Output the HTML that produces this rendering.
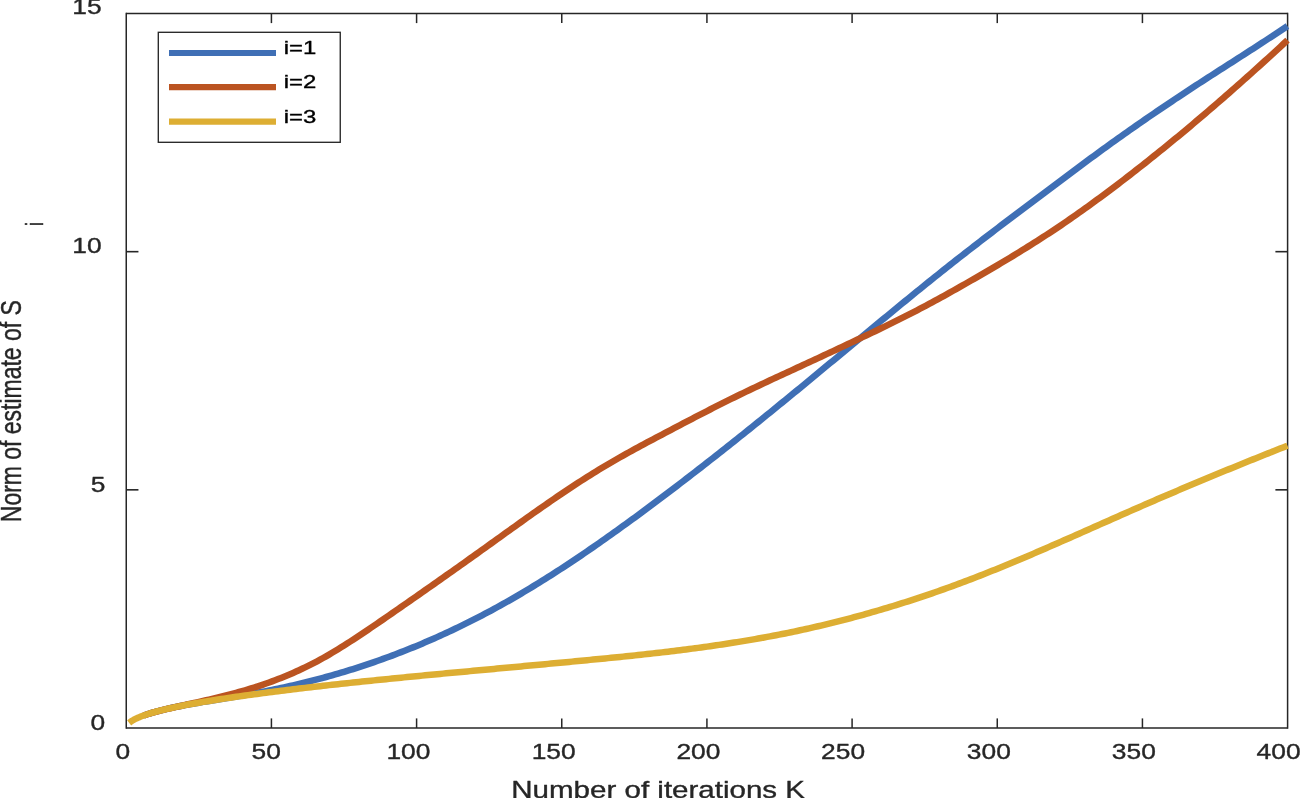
<!DOCTYPE html>
<html><head><meta charset="utf-8"><title>Norm of estimate</title>
<style>
html,body{margin:0;padding:0;background:#fff;}
svg{display:block}
text{font-family:"Liberation Sans",Arial,Helvetica,sans-serif;fill:#262626;stroke:#262626;stroke-width:0.35px;stroke-linejoin:round}
</style></head><body>
<svg width="1300" height="798" viewBox="0 0 1300 798">
<rect width="1300" height="798" fill="#fff"/>
<g stroke="#262626" fill="none">
<line x1="126.25" y1="12.7" x2="126.25" y2="728.8" stroke-width="1.5"/>
<line x1="1287.6" y1="12.7" x2="1287.6" y2="728.8" stroke-width="1.5"/>
<line x1="126.25" y1="13.5" x2="1287.6" y2="13.5" stroke-width="1.6"/>
<line x1="126.25" y1="728.0" x2="1287.6" y2="728.0" stroke-width="1.6"/>
<line x1="271.42" y1="728.0" x2="271.42" y2="718.4" stroke-width="1.5"/>
<line x1="271.42" y1="13.5" x2="271.42" y2="23.1" stroke-width="1.5"/>
<line x1="416.59" y1="728.0" x2="416.59" y2="718.4" stroke-width="1.5"/>
<line x1="416.59" y1="13.5" x2="416.59" y2="23.1" stroke-width="1.5"/>
<line x1="561.76" y1="728.0" x2="561.76" y2="718.4" stroke-width="1.5"/>
<line x1="561.76" y1="13.5" x2="561.76" y2="23.1" stroke-width="1.5"/>
<line x1="706.92" y1="728.0" x2="706.92" y2="718.4" stroke-width="1.5"/>
<line x1="706.92" y1="13.5" x2="706.92" y2="23.1" stroke-width="1.5"/>
<line x1="852.09" y1="728.0" x2="852.09" y2="718.4" stroke-width="1.5"/>
<line x1="852.09" y1="13.5" x2="852.09" y2="23.1" stroke-width="1.5"/>
<line x1="997.26" y1="728.0" x2="997.26" y2="718.4" stroke-width="1.5"/>
<line x1="997.26" y1="13.5" x2="997.26" y2="23.1" stroke-width="1.5"/>
<line x1="1142.43" y1="728.0" x2="1142.43" y2="718.4" stroke-width="1.5"/>
<line x1="1142.43" y1="13.5" x2="1142.43" y2="23.1" stroke-width="1.5"/>
<line x1="126.25" y1="489.83" x2="138.45" y2="489.83" stroke-width="1.6"/>
<line x1="1287.6" y1="489.83" x2="1275.3999999999999" y2="489.83" stroke-width="1.6"/>
<line x1="126.25" y1="251.67" x2="138.45" y2="251.67" stroke-width="1.6"/>
<line x1="1287.6" y1="251.67" x2="1275.3999999999999" y2="251.67" stroke-width="1.6"/>
</g>
<g fill="none" stroke-width="6.5" stroke-linejoin="round">
<path stroke="#3f6fb5" d="M143.67 715.50 L145.12 714.98 L146.57 714.49 L148.03 714.01 L149.48 713.55 L150.93 713.11 L152.38 712.67 L153.83 712.25 L155.28 711.84 L156.74 711.45 L158.19 711.06 L159.64 710.68 L161.09 710.31 L164.09 709.57 L167.09 708.86 L170.09 708.18 L173.09 707.52 L176.09 706.89 L179.09 706.28 L182.09 705.69 L185.09 705.11 L188.09 704.55 L191.09 704.00 L194.09 703.47 L197.09 702.94 L200.09 702.43 L203.09 701.92 L206.09 701.42 L209.09 700.92 L212.09 700.43 L215.09 699.94 L218.09 699.45 L221.09 698.96 L224.09 698.47 L227.09 697.98 L230.09 697.49 L233.09 696.99 L236.09 696.49 L239.09 695.99 L242.09 695.48 L245.09 694.96 L248.09 694.44 L251.09 693.90 L254.09 693.36 L257.09 692.81 L260.09 692.25 L263.09 691.67 L266.09 691.09 L269.09 690.49 L272.09 689.89 L275.09 689.27 L278.09 688.65 L281.09 688.01 L284.09 687.36 L287.09 686.70 L290.09 686.02 L293.09 685.34 L296.09 684.64 L299.09 683.93 L302.09 683.21 L305.09 682.48 L308.09 681.73 L311.09 680.98 L314.09 680.21 L317.09 679.42 L320.09 678.63 L323.09 677.82 L326.09 677.00 L329.09 676.17 L332.09 675.32 L335.09 674.46 L338.09 673.59 L341.09 672.71 L344.09 671.81 L347.09 670.90 L350.09 669.97 L353.09 669.03 L356.09 668.08 L359.09 667.11 L362.09 666.14 L365.09 665.14 L368.09 664.14 L371.09 663.12 L374.09 662.08 L377.09 661.04 L380.09 659.97 L383.09 658.90 L386.09 657.81 L389.09 656.71 L392.09 655.59 L395.09 654.46 L398.09 653.31 L401.09 652.15 L404.09 650.98 L407.09 649.79 L410.09 648.58 L413.09 647.37 L416.09 646.13 L419.09 644.89 L422.09 643.63 L425.09 642.35 L428.09 641.06 L431.09 639.76 L434.09 638.44 L437.09 637.10 L440.09 635.75 L443.09 634.39 L446.09 633.01 L449.09 631.62 L452.09 630.21 L455.09 628.78 L458.09 627.35 L461.09 625.89 L464.09 624.42 L467.09 622.94 L470.09 621.44 L473.09 619.92 L476.09 618.40 L479.09 616.85 L482.09 615.29 L485.09 613.71 L488.09 612.12 L491.09 610.52 L494.09 608.89 L497.09 607.26 L500.09 605.60 L503.09 603.94 L506.09 602.25 L509.09 600.55 L512.09 598.84 L515.09 597.11 L518.09 595.36 L521.09 593.60 L524.09 591.82 L527.09 590.03 L530.09 588.22 L533.09 586.40 L536.09 584.56 L539.09 582.71 L542.09 580.85 L545.09 578.97 L548.09 577.08 L551.09 575.17 L554.09 573.26 L557.09 571.33 L560.09 569.38 L563.09 567.43 L566.09 565.46 L569.09 563.48 L572.09 561.48 L575.09 559.48 L578.09 557.46 L581.09 555.44 L584.09 553.40 L587.09 551.35 L590.09 549.29 L593.09 547.22 L596.09 545.14 L599.09 543.05 L602.09 540.95 L605.09 538.84 L608.09 536.72 L611.09 534.59 L614.09 532.45 L617.09 530.30 L620.09 528.15 L623.09 525.98 L626.09 523.81 L629.09 521.63 L632.09 519.44 L635.09 517.25 L638.09 515.05 L641.09 512.84 L644.09 510.62 L647.09 508.40 L650.09 506.17 L653.09 503.93 L656.09 501.69 L659.09 499.44 L662.09 497.18 L665.09 494.92 L668.09 492.65 L671.09 490.38 L674.09 488.10 L677.09 485.81 L680.09 483.52 L683.09 481.22 L686.09 478.92 L689.09 476.61 L692.09 474.29 L695.09 471.97 L698.09 469.65 L701.09 467.32 L704.09 464.98 L707.09 462.64 L710.09 460.29 L713.09 457.94 L716.09 455.59 L719.09 453.23 L722.09 450.86 L725.09 448.49 L728.09 446.11 L731.09 443.73 L734.09 441.35 L737.09 438.96 L740.09 436.57 L743.09 434.17 L746.09 431.77 L749.09 429.36 L752.09 426.95 L755.09 424.54 L758.09 422.12 L761.09 419.70 L764.09 417.27 L767.09 414.84 L770.09 412.41 L773.09 409.97 L776.09 407.53 L779.09 405.09 L782.09 402.64 L785.09 400.20 L788.09 397.74 L791.09 395.29 L794.09 392.83 L797.09 390.37 L800.09 387.90 L803.09 385.43 L806.09 382.96 L809.09 380.49 L812.09 378.02 L815.09 375.54 L818.09 373.06 L821.09 370.58 L824.09 368.09 L827.09 365.61 L830.09 363.12 L833.09 360.63 L836.09 358.15 L839.09 355.66 L842.09 353.17 L845.09 350.68 L848.09 348.19 L851.09 345.70 L854.09 343.21 L857.09 340.72 L860.09 338.23 L863.09 335.74 L866.09 333.25 L869.09 330.77 L872.09 328.29 L875.09 325.80 L878.09 323.32 L881.09 320.84 L884.09 318.37 L887.09 315.90 L890.09 313.42 L893.09 310.96 L896.09 308.49 L899.09 306.03 L902.09 303.57 L905.09 301.12 L908.09 298.67 L911.09 296.22 L914.09 293.78 L917.09 291.34 L920.09 288.91 L923.09 286.48 L926.09 284.06 L929.09 281.64 L932.09 279.23 L935.09 276.83 L938.09 274.43 L941.09 272.03 L944.09 269.65 L947.09 267.27 L950.09 264.89 L953.09 262.53 L956.09 260.17 L959.09 257.81 L962.09 255.47 L965.09 253.13 L968.09 250.79 L971.09 248.46 L974.09 246.14 L977.09 243.82 L980.09 241.51 L983.09 239.20 L986.09 236.90 L989.09 234.60 L992.09 232.31 L995.09 230.02 L998.09 227.73 L1001.09 225.45 L1004.09 223.17 L1007.09 220.90 L1010.09 218.63 L1013.09 216.36 L1016.09 214.09 L1019.09 211.83 L1022.09 209.56 L1025.09 207.31 L1028.09 205.05 L1031.09 202.79 L1034.09 200.54 L1037.09 198.28 L1040.09 196.03 L1043.09 193.78 L1046.09 191.53 L1049.09 189.28 L1052.09 187.03 L1055.09 184.78 L1058.09 182.53 L1061.09 180.28 L1064.09 178.03 L1067.09 175.78 L1070.09 173.54 L1073.09 171.30 L1076.09 169.07 L1079.09 166.84 L1082.09 164.61 L1085.09 162.39 L1088.09 160.17 L1091.09 157.96 L1094.09 155.76 L1097.09 153.56 L1100.09 151.37 L1103.09 149.19 L1106.09 147.02 L1109.09 144.86 L1112.09 142.70 L1115.09 140.55 L1118.09 138.41 L1121.09 136.28 L1124.09 134.16 L1127.09 132.04 L1130.09 129.93 L1133.09 127.83 L1136.09 125.74 L1139.09 123.65 L1142.09 121.57 L1145.09 119.50 L1148.09 117.44 L1151.09 115.38 L1154.09 113.33 L1157.09 111.29 L1160.09 109.25 L1163.09 107.22 L1166.09 105.20 L1169.09 103.19 L1172.09 101.18 L1175.09 99.17 L1178.09 97.18 L1181.09 95.19 L1184.09 93.20 L1187.09 91.23 L1190.09 89.26 L1193.09 87.29 L1196.09 85.33 L1199.09 83.38 L1202.09 81.43 L1205.09 79.49 L1208.09 77.55 L1211.09 75.62 L1214.09 73.69 L1217.09 71.76 L1220.09 69.84 L1223.09 67.91 L1226.09 65.99 L1229.09 64.07 L1232.09 62.15 L1235.09 60.23 L1238.09 58.31 L1241.09 56.38 L1244.09 54.46 L1247.09 52.53 L1250.09 50.60 L1253.09 48.66 L1256.09 46.72 L1259.09 44.77 L1262.09 42.82 L1265.09 40.86 L1268.09 38.90 L1271.09 36.93 L1274.09 34.95 L1277.09 32.96 L1280.09 30.96 L1283.09 28.95 L1286.09 26.93 L1287.40 26.05"/>
<path stroke="#bb5421" d="M143.67 715.49 L145.12 714.98 L146.57 714.50 L148.03 714.03 L149.48 713.58 L150.93 713.15 L152.38 712.73 L153.83 712.32 L155.28 711.92 L156.74 711.53 L158.19 711.15 L159.64 710.77 L161.09 710.41 L164.09 709.67 L167.09 708.96 L170.09 708.26 L173.09 707.58 L176.09 706.91 L179.09 706.25 L182.09 705.59 L185.09 704.93 L188.09 704.27 L191.09 703.62 L194.09 702.96 L197.09 702.30 L200.09 701.63 L203.09 700.96 L206.09 700.28 L209.09 699.59 L212.09 698.89 L215.09 698.18 L218.09 697.46 L221.09 696.72 L224.09 695.97 L227.09 695.21 L230.09 694.43 L233.09 693.63 L236.09 692.82 L239.09 691.98 L242.09 691.13 L245.09 690.26 L248.09 689.36 L251.09 688.45 L254.09 687.51 L257.09 686.54 L260.09 685.56 L263.09 684.55 L266.09 683.51 L269.09 682.45 L272.09 681.36 L275.09 680.24 L278.09 679.09 L281.09 677.91 L284.09 676.71 L287.09 675.47 L290.09 674.20 L293.09 672.90 L296.09 671.57 L299.09 670.20 L302.09 668.80 L305.09 667.37 L308.09 665.90 L311.09 664.39 L314.09 662.85 L317.09 661.27 L320.09 659.65 L323.09 657.99 L326.09 656.30 L329.09 654.57 L332.09 652.81 L335.09 651.02 L338.09 649.19 L341.09 647.34 L344.09 645.47 L347.09 643.57 L350.09 641.64 L353.09 639.70 L356.09 637.73 L359.09 635.75 L362.09 633.75 L365.09 631.74 L368.09 629.71 L371.09 627.67 L374.09 625.63 L377.09 623.57 L380.09 621.51 L383.09 619.45 L386.09 617.38 L389.09 615.31 L392.09 613.23 L395.09 611.16 L398.09 609.08 L401.09 607.00 L404.09 604.92 L407.09 602.84 L410.09 600.75 L413.09 598.66 L416.09 596.57 L419.09 594.47 L422.09 592.38 L425.09 590.28 L428.09 588.18 L431.09 586.08 L434.09 583.97 L437.09 581.86 L440.09 579.75 L443.09 577.64 L446.09 575.52 L449.09 573.41 L452.09 571.29 L455.09 569.16 L458.09 567.04 L461.09 564.91 L464.09 562.78 L467.09 560.65 L470.09 558.51 L473.09 556.38 L476.09 554.24 L479.09 552.10 L482.09 549.95 L485.09 547.80 L488.09 545.66 L491.09 543.50 L494.09 541.35 L497.09 539.19 L500.09 537.04 L503.09 534.88 L506.09 532.73 L509.09 530.57 L512.09 528.42 L515.09 526.27 L518.09 524.12 L521.09 521.98 L524.09 519.84 L527.09 517.71 L530.09 515.58 L533.09 513.46 L536.09 511.34 L539.09 509.23 L542.09 507.14 L545.09 505.05 L548.09 502.97 L551.09 500.90 L554.09 498.84 L557.09 496.79 L560.09 494.76 L563.09 492.73 L566.09 490.72 L569.09 488.72 L572.09 486.74 L575.09 484.77 L578.09 482.82 L581.09 480.88 L584.09 478.95 L587.09 477.05 L590.09 475.16 L593.09 473.29 L596.09 471.43 L599.09 469.60 L602.09 467.78 L605.09 465.99 L608.09 464.21 L611.09 462.45 L614.09 460.71 L617.09 458.99 L620.09 457.28 L623.09 455.59 L626.09 453.91 L629.09 452.24 L632.09 450.59 L635.09 448.95 L638.09 447.32 L641.09 445.69 L644.09 444.08 L647.09 442.47 L650.09 440.87 L653.09 439.28 L656.09 437.69 L659.09 436.11 L662.09 434.52 L665.09 432.94 L668.09 431.37 L671.09 429.79 L674.09 428.21 L677.09 426.64 L680.09 425.06 L683.09 423.49 L686.09 421.92 L689.09 420.35 L692.09 418.79 L695.09 417.23 L698.09 415.67 L701.09 414.12 L704.09 412.58 L707.09 411.04 L710.09 409.50 L713.09 407.97 L716.09 406.45 L719.09 404.93 L722.09 403.42 L725.09 401.92 L728.09 400.43 L731.09 398.94 L734.09 397.47 L737.09 396.00 L740.09 394.54 L743.09 393.09 L746.09 391.65 L749.09 390.21 L752.09 388.78 L755.09 387.36 L758.09 385.94 L761.09 384.53 L764.09 383.12 L767.09 381.72 L770.09 380.32 L773.09 378.92 L776.09 377.53 L779.09 376.14 L782.09 374.75 L785.09 373.36 L788.09 371.98 L791.09 370.59 L794.09 369.21 L797.09 367.82 L800.09 366.44 L803.09 365.05 L806.09 363.66 L809.09 362.27 L812.09 360.88 L815.09 359.49 L818.09 358.09 L821.09 356.70 L824.09 355.30 L827.09 353.90 L830.09 352.50 L833.09 351.10 L836.09 349.69 L839.09 348.29 L842.09 346.88 L845.09 345.47 L848.09 344.05 L851.09 342.64 L854.09 341.22 L857.09 339.79 L860.09 338.37 L863.09 336.94 L866.09 335.51 L869.09 334.08 L872.09 332.64 L875.09 331.20 L878.09 329.75 L881.09 328.30 L884.09 326.84 L887.09 325.37 L890.09 323.90 L893.09 322.42 L896.09 320.94 L899.09 319.44 L902.09 317.94 L905.09 316.43 L908.09 314.91 L911.09 313.38 L914.09 311.84 L917.09 310.29 L920.09 308.73 L923.09 307.15 L926.09 305.56 L929.09 303.97 L932.09 302.35 L935.09 300.73 L938.09 299.09 L941.09 297.45 L944.09 295.79 L947.09 294.13 L950.09 292.45 L953.09 290.77 L956.09 289.08 L959.09 287.38 L962.09 285.68 L965.09 283.97 L968.09 282.26 L971.09 280.54 L974.09 278.81 L977.09 277.09 L980.09 275.35 L983.09 273.62 L986.09 271.87 L989.09 270.12 L992.09 268.37 L995.09 266.60 L998.09 264.83 L1001.09 263.06 L1004.09 261.27 L1007.09 259.48 L1010.09 257.67 L1013.09 255.86 L1016.09 254.03 L1019.09 252.20 L1022.09 250.35 L1025.09 248.50 L1028.09 246.63 L1031.09 244.75 L1034.09 242.86 L1037.09 240.95 L1040.09 239.03 L1043.09 237.10 L1046.09 235.15 L1049.09 233.19 L1052.09 231.21 L1055.09 229.21 L1058.09 227.20 L1061.09 225.18 L1064.09 223.14 L1067.09 221.08 L1070.09 219.01 L1073.09 216.93 L1076.09 214.83 L1079.09 212.71 L1082.09 210.58 L1085.09 208.44 L1088.09 206.29 L1091.09 204.12 L1094.09 201.94 L1097.09 199.74 L1100.09 197.54 L1103.09 195.32 L1106.09 193.09 L1109.09 190.84 L1112.09 188.59 L1115.09 186.32 L1118.09 184.05 L1121.09 181.76 L1124.09 179.46 L1127.09 177.15 L1130.09 174.83 L1133.09 172.50 L1136.09 170.16 L1139.09 167.81 L1142.09 165.45 L1145.09 163.08 L1148.09 160.70 L1151.09 158.31 L1154.09 155.91 L1157.09 153.51 L1160.09 151.09 L1163.09 148.66 L1166.09 146.22 L1169.09 143.78 L1172.09 141.32 L1175.09 138.86 L1178.09 136.38 L1181.09 133.90 L1184.09 131.41 L1187.09 128.91 L1190.09 126.39 L1193.09 123.87 L1196.09 121.35 L1199.09 118.81 L1202.09 116.26 L1205.09 113.70 L1208.09 111.14 L1211.09 108.56 L1214.09 105.98 L1217.09 103.39 L1220.09 100.79 L1223.09 98.18 L1226.09 95.56 L1229.09 92.94 L1232.09 90.30 L1235.09 87.66 L1238.09 85.01 L1241.09 82.35 L1244.09 79.68 L1247.09 77.00 L1250.09 74.32 L1253.09 71.63 L1256.09 68.93 L1259.09 66.22 L1262.09 63.50 L1265.09 60.77 L1268.09 58.04 L1271.09 55.30 L1274.09 52.55 L1277.09 49.79 L1280.09 47.03 L1283.09 44.25 L1286.09 41.47 L1287.50 40.16"/>
<path stroke="#ddae33" d="M129.15 722.92 L130.61 721.77 L132.06 720.80 L133.51 719.94 L134.96 719.16 L136.41 718.45 L137.86 717.79 L139.32 717.17 L140.77 716.58 L142.22 716.02 L143.67 715.49 L145.12 714.98 L146.57 714.49 L148.03 714.01 L149.48 713.56 L150.93 713.11 L152.38 712.68 L153.83 712.27 L155.28 711.86 L156.74 711.46 L158.19 711.08 L159.64 710.70 L161.09 710.33 L164.09 709.60 L167.09 708.89 L170.09 708.21 L173.09 707.55 L176.09 706.92 L179.09 706.31 L182.09 705.71 L185.09 705.13 L188.09 704.56 L191.09 704.01 L194.09 703.47 L197.09 702.95 L200.09 702.43 L203.09 701.92 L206.09 701.43 L209.09 700.94 L212.09 700.46 L215.09 699.98 L218.09 699.51 L221.09 699.05 L224.09 698.60 L227.09 698.15 L230.09 697.71 L233.09 697.27 L236.09 696.83 L239.09 696.40 L242.09 695.98 L245.09 695.56 L248.09 695.14 L251.09 694.73 L254.09 694.32 L257.09 693.92 L260.09 693.52 L263.09 693.12 L266.09 692.73 L269.09 692.34 L272.09 691.95 L275.09 691.57 L278.09 691.19 L281.09 690.81 L284.09 690.43 L287.09 690.06 L290.09 689.69 L293.09 689.33 L296.09 688.96 L299.09 688.60 L302.09 688.25 L305.09 687.89 L308.09 687.54 L311.09 687.19 L314.09 686.84 L317.09 686.50 L320.09 686.16 L323.09 685.82 L326.09 685.48 L329.09 685.14 L332.09 684.81 L335.09 684.48 L338.09 684.15 L341.09 683.83 L344.09 683.50 L347.09 683.18 L350.09 682.86 L353.09 682.55 L356.09 682.23 L359.09 681.91 L362.09 681.60 L365.09 681.29 L368.09 680.98 L371.09 680.67 L374.09 680.37 L377.09 680.06 L380.09 679.76 L383.09 679.46 L386.09 679.16 L389.09 678.86 L392.09 678.56 L395.09 678.26 L398.09 677.97 L401.09 677.67 L404.09 677.38 L407.09 677.09 L410.09 676.79 L413.09 676.50 L416.09 676.21 L419.09 675.93 L422.09 675.64 L425.09 675.35 L428.09 675.06 L431.09 674.78 L434.09 674.49 L437.09 674.21 L440.09 673.93 L443.09 673.64 L446.09 673.36 L449.09 673.08 L452.09 672.80 L455.09 672.52 L458.09 672.23 L461.09 671.95 L464.09 671.67 L467.09 671.40 L470.09 671.12 L473.09 670.84 L476.09 670.56 L479.09 670.28 L482.09 670.00 L485.09 669.72 L488.09 669.45 L491.09 669.17 L494.09 668.89 L497.09 668.61 L500.09 668.34 L503.09 668.06 L506.09 667.78 L509.09 667.50 L512.09 667.23 L515.09 666.95 L518.09 666.67 L521.09 666.39 L524.09 666.11 L527.09 665.83 L530.09 665.56 L533.09 665.28 L536.09 665.00 L539.09 664.72 L542.09 664.44 L545.09 664.16 L548.09 663.88 L551.09 663.60 L554.09 663.31 L557.09 663.03 L560.09 662.75 L563.09 662.47 L566.09 662.18 L569.09 661.90 L572.09 661.61 L575.09 661.33 L578.09 661.04 L581.09 660.76 L584.09 660.47 L587.09 660.18 L590.09 659.89 L593.09 659.60 L596.09 659.31 L599.09 659.02 L602.09 658.72 L605.09 658.43 L608.09 658.13 L611.09 657.83 L614.09 657.53 L617.09 657.23 L620.09 656.92 L623.09 656.61 L626.09 656.30 L629.09 655.99 L632.09 655.68 L635.09 655.36 L638.09 655.04 L641.09 654.71 L644.09 654.39 L647.09 654.06 L650.09 653.73 L653.09 653.39 L656.09 653.05 L659.09 652.70 L662.09 652.36 L665.09 652.01 L668.09 651.65 L671.09 651.29 L674.09 650.93 L677.09 650.56 L680.09 650.19 L683.09 649.81 L686.09 649.43 L689.09 649.04 L692.09 648.65 L695.09 648.25 L698.09 647.85 L701.09 647.44 L704.09 647.03 L707.09 646.61 L710.09 646.19 L713.09 645.76 L716.09 645.32 L719.09 644.88 L722.09 644.44 L725.09 643.98 L728.09 643.52 L731.09 643.06 L734.09 642.58 L737.09 642.10 L740.09 641.62 L743.09 641.13 L746.09 640.63 L749.09 640.12 L752.09 639.60 L755.09 639.08 L758.09 638.55 L761.09 638.02 L764.09 637.47 L767.09 636.92 L770.09 636.36 L773.09 635.79 L776.09 635.22 L779.09 634.63 L782.09 634.04 L785.09 633.44 L788.09 632.83 L791.09 632.21 L794.09 631.58 L797.09 630.95 L800.09 630.30 L803.09 629.65 L806.09 628.99 L809.09 628.32 L812.09 627.64 L815.09 626.95 L818.09 626.25 L821.09 625.55 L824.09 624.83 L827.09 624.11 L830.09 623.38 L833.09 622.64 L836.09 621.89 L839.09 621.14 L842.09 620.37 L845.09 619.59 L848.09 618.81 L851.09 618.02 L854.09 617.22 L857.09 616.41 L860.09 615.59 L863.09 614.76 L866.09 613.93 L869.09 613.08 L872.09 612.23 L875.09 611.37 L878.09 610.50 L881.09 609.62 L884.09 608.73 L887.09 607.83 L890.09 606.92 L893.09 606.01 L896.09 605.09 L899.09 604.15 L902.09 603.21 L905.09 602.26 L908.09 601.30 L911.09 600.33 L914.09 599.36 L917.09 598.37 L920.09 597.38 L923.09 596.37 L926.09 595.36 L929.09 594.34 L932.09 593.31 L935.09 592.27 L938.09 591.22 L941.09 590.17 L944.09 589.10 L947.09 588.03 L950.09 586.94 L953.09 585.85 L956.09 584.75 L959.09 583.64 L962.09 582.52 L965.09 581.39 L968.09 580.25 L971.09 579.11 L974.09 577.95 L977.09 576.79 L980.09 575.62 L983.09 574.44 L986.09 573.25 L989.09 572.06 L992.09 570.85 L995.09 569.65 L998.09 568.43 L1001.09 567.21 L1004.09 565.98 L1007.09 564.74 L1010.09 563.50 L1013.09 562.25 L1016.09 561.00 L1019.09 559.74 L1022.09 558.48 L1025.09 557.21 L1028.09 555.93 L1031.09 554.65 L1034.09 553.37 L1037.09 552.08 L1040.09 550.79 L1043.09 549.50 L1046.09 548.20 L1049.09 546.89 L1052.09 545.59 L1055.09 544.28 L1058.09 542.97 L1061.09 541.65 L1064.09 540.33 L1067.09 539.01 L1070.09 537.69 L1073.09 536.37 L1076.09 535.04 L1079.09 533.71 L1082.09 532.39 L1085.09 531.06 L1088.09 529.73 L1091.09 528.40 L1094.09 527.06 L1097.09 525.73 L1100.09 524.40 L1103.09 523.07 L1106.09 521.74 L1109.09 520.41 L1112.09 519.08 L1115.09 517.75 L1118.09 516.42 L1121.09 515.09 L1124.09 513.77 L1127.09 512.45 L1130.09 511.12 L1133.09 509.81 L1136.09 508.49 L1139.09 507.17 L1142.09 505.86 L1145.09 504.55 L1148.09 503.25 L1151.09 501.95 L1154.09 500.65 L1157.09 499.35 L1160.09 498.06 L1163.09 496.77 L1166.09 495.48 L1169.09 494.20 L1172.09 492.92 L1175.09 491.64 L1178.09 490.37 L1181.09 489.09 L1184.09 487.82 L1187.09 486.56 L1190.09 485.30 L1193.09 484.03 L1196.09 482.78 L1199.09 481.52 L1202.09 480.27 L1205.09 479.02 L1208.09 477.77 L1211.09 476.53 L1214.09 475.29 L1217.09 474.05 L1220.09 472.81 L1223.09 471.58 L1226.09 470.35 L1229.09 469.12 L1232.09 467.89 L1235.09 466.67 L1238.09 465.45 L1241.09 464.23 L1244.09 463.02 L1247.09 461.80 L1250.09 460.59 L1253.09 459.38 L1256.09 458.18 L1259.09 456.97 L1262.09 455.77 L1265.09 454.57 L1268.09 453.37 L1271.09 452.18 L1274.09 450.98 L1277.09 449.79 L1280.09 448.60 L1283.09 447.42 L1286.09 446.23 L1287.50 445.68"/>
</g>
<text transform="translate(115.59 758.50) scale(1.238 1)" font-size="21.3" text-anchor="start">0</text>
<text transform="translate(251.55 758.50) scale(1.238 1)" font-size="21.3" text-anchor="start">50</text>
<text transform="translate(386.43 758.50) scale(1.238 1)" font-size="21.3" text-anchor="start">100</text>
<text transform="translate(531.63 758.50) scale(1.238 1)" font-size="21.3" text-anchor="start">150</text>
<text transform="translate(676.41 758.50) scale(1.238 1)" font-size="21.3" text-anchor="start">200</text>
<text transform="translate(821.11 758.50) scale(1.238 1)" font-size="21.3" text-anchor="start">250</text>
<text transform="translate(966.85 758.50) scale(1.238 1)" font-size="21.3" text-anchor="start">300</text>
<text transform="translate(1111.85 758.50) scale(1.238 1)" font-size="21.3" text-anchor="start">350</text>
<text transform="translate(1256.57 758.50) scale(1.238 1)" font-size="21.3" text-anchor="start">400</text>
<text transform="translate(72.23 14.20) scale(1.238 1)" font-size="21.3" text-anchor="start">15</text>
<text transform="translate(72.23 253.10) scale(1.238 1)" font-size="21.3" text-anchor="start">10</text>
<text transform="translate(90.65 491.80) scale(1.238 1)" font-size="21.3" text-anchor="start">5</text>
<text transform="translate(90.39 729.60) scale(1.238 1)" font-size="21.3" text-anchor="start">0</text>
<text transform="translate(511.25 797.70) scale(1.2360 1)" font-size="23.9" text-anchor="start">Number of iterations K</text>
<text transform="translate(21.4 522.2) scale(1.2360 1) rotate(-90) scale(0.9611 1)" font-size="23.9">Norm of estimate of S</text>
<text transform="translate(42.5 226) scale(1.29 1) rotate(-90)" font-size="18.4">i</text>
<rect x="158.3" y="32.3" width="181.95" height="110.0" fill="#fff" stroke="#262626" stroke-width="1.35"/>
<line x1="169" y1="53.0" x2="276" y2="53.0" stroke="#3f6fb5" stroke-width="6.2"/>
<text transform="translate(283.70 54.00) scale(1.33 1)" font-size="18" text-anchor="start" style="fill:#000;stroke:#000">i=1</text>
<line x1="169" y1="87.2" x2="276" y2="87.2" stroke="#bb5421" stroke-width="6.2"/>
<text transform="translate(283.70 88.20) scale(1.33 1)" font-size="18" text-anchor="start" style="fill:#000;stroke:#000">i=2</text>
<line x1="169" y1="121.7" x2="276" y2="121.7" stroke="#ddae33" stroke-width="6.2"/>
<text transform="translate(283.70 122.70) scale(1.33 1)" font-size="18" text-anchor="start" style="fill:#000;stroke:#000">i=3</text>
</svg></body></html>
